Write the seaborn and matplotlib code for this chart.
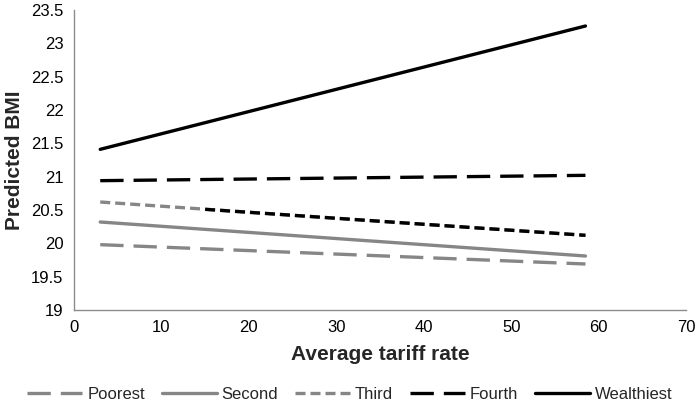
import matplotlib
matplotlib.use("Agg")
import matplotlib.pyplot as plt
import seaborn as sns

sns.set_theme(style="white")
plt.rcParams['font.family'] = ['Liberation Sans', 'DejaVu Sans']

groups = ["Poorest", "Second", "Third", "Fourth", "Wealthiest"]
tariff = [3, 58.5]
poorest = [19.98, 19.69]
second = [20.32, 19.81]
third = [20.62, 20.12]
fourth = [20.94, 21.02]
wealthiest = [21.41, 23.26]
# part of the Third line that is drawn in black in the original
third_black_x = [15, 58.5]
third_black_y = [20.51, 20.12]

values = [poorest, second, third, fourth, wealthiest]
gray = "#868686"
colors = [gray, gray, gray, "black", "black"]
long_dash = (0, (7, 3))
short_dash = (0, (3, 1.5))
styles = [long_dash, "-", short_dash, long_dash, "-"]
lw = 2.4

fig = plt.figure(figsize=(7.0, 4.15), dpi=100)
ax = fig.add_axes([74/700, 1 - 310/415, (686-74)/700, 300/415])

for g, v, c, ls in zip(groups, values, colors, styles):
    sns.lineplot(x=tariff, y=v, color=c, linestyle=ls, linewidth=lw,
                 label=g, ax=ax)
sns.lineplot(x=third_black_x, y=third_black_y, color="black",
             linestyle=short_dash, linewidth=lw, ax=ax)

ax.set_xlim(0, 70)
ax.set_ylim(19, 23.5)
ax.set_xticks(range(0, 71, 10))
ax.set_yticks([19 + 0.5 * i for i in range(10)])
ax.set_yticklabels([f"{19 + 0.5 * i:g}" for i in range(10)])
ax.tick_params(axis="both", labelsize=12, direction="out", length=4,
               width=1, colors="black")
ax.tick_params(axis="both", color="#8c8c8c")
for s in ["top", "right"]:
    ax.spines[s].set_visible(False)
for s in ["left", "bottom"]:
    ax.spines[s].set_color("#8c8c8c")
    ax.spines[s].set_linewidth(1)
ax.set_xlabel("Average tariff rate", fontsize=15, fontweight="bold", labelpad=7)
ax.set_ylabel("Predicted BMI", fontsize=15, fontweight="bold", labelpad=5)

handles, labels = ax.get_legend_handles_labels()
ax.get_legend().remove()
fig.legend(handles[:5], labels[:5], loc="lower center", ncol=5, frameon=False,
           fontsize=12, handlelength=3.3, columnspacing=1.0,
           handletextpad=0.3, bbox_to_anchor=(0.5, -0.005))

fig.savefig("out.png", dpi=100)
